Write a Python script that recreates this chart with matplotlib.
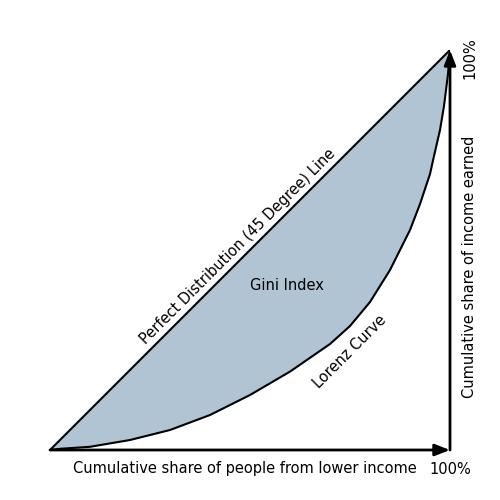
import matplotlib
matplotlib.use("Agg")
import matplotlib.pyplot as plt
import numpy as np

# cumulative share of people (x) vs cumulative share of income (y)
people_share = [0.0, 0.025, 0.1, 0.2, 0.3, 0.4, 0.5, 0.6, 0.7, 0.75, 0.8, 0.85,
                0.9, 0.925, 0.95, 0.96, 0.975, 0.985, 0.995, 1.0]
income_share = [0.0, 0.003, 0.008, 0.025, 0.05, 0.0875, 0.1375, 0.196, 0.265, 0.31, 0.37, 0.45,
                0.55, 0.615, 0.69, 0.735, 0.8, 0.86, 0.94, 1.0]
equality = [0.0, 1.0]

fill_color = '#b1c4d4'

fig = plt.figure(figsize=(5, 5), dpi=100)
ax = fig.add_axes([0.1, 0.1, 0.8, 0.8])
ax.set_xlim(0, 1)
ax.set_ylim(0, 1)
ax.axis('off')

x = np.array(people_share)
y = np.array(income_share)
ax.fill_between(x, x, y, color=fill_color, lw=0)
ax.plot(equality, equality, color='black', lw=1.5, solid_capstyle='round')
ax.plot(x, y, color='black', lw=1.5, solid_joinstyle='round')

# axes as arrows
arrow = dict(arrowstyle='-|>,head_length=0.9,head_width=0.35', color='black', lw=2, shrinkA=0, shrinkB=0)
ax.annotate('', xy=(1.0, 0.0), xytext=(0, 0), arrowprops=arrow, annotation_clip=False)
ax.annotate('', xy=(1.0, 1.0), xytext=(1.0, 0), arrowprops=arrow, annotation_clip=False)

fs = 10.5
ax.text(0.47, 0.5075, 'Perfect Distribution (45 Degree) Line', rotation=45, rotation_mode='anchor',
        ha='center', va='center', fontsize=fs)
ax.text(0.5925, 0.4125, 'Gini Index', ha='center', va='center', fontsize=fs)
ax.text(0.75, 0.245, 'Lorenz Curve', rotation=45, rotation_mode='anchor',
        ha='center', va='center', fontsize=fs)
ax.text(0.4875, -0.0475, 'Cumulative share of people from lower income', ha='center', va='center',
        fontsize=fs)
ax.text(1.0, -0.0475, '100%', ha='center', va='center', fontsize=fs)
ax.text(1.05, 0.4575, 'Cumulative share of income earned', rotation=90, ha='center', va='center',
        fontsize=fs)
ax.text(1.05, 0.98, '100%', rotation=90, ha='center', va='center', fontsize=fs)

fig.savefig('out.png', dpi=100)
